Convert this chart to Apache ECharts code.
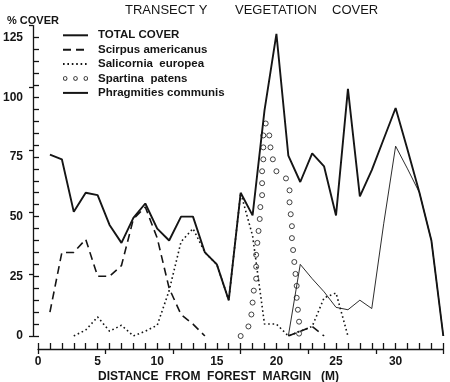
<!DOCTYPE html>
<html>
<head>
<meta charset="utf-8">
<script src="https://cdn.jsdelivr.net/npm/echarts@6/dist/echarts.min.js"></script>
<style>
html,body{margin:0;padding:0;background:#fff;}
#c{width:450px;height:382px;}
</style>
</head>
<body>
<div id="c"></div>
<script>
// ---- data ----
const distance = [1,2,3,4,5,6,7,8,9,10,11,12,13,14,15,16,17,18,19,20,21,22,23,24,25,26,27,28,29,30,31,32,33,34];
const totalCover = [76,74,52,60,59,46.5,39,49.5,55.5,45,40,50,50,35,30,15,60,50.5,94.5,126.5,75.5,64.5,76.5,71,50.5,103.5,58.5,69.5,82.5,95.5,78,60,40,0];

const scirpusDist = [1,2,3,4,5,6,7,8,9,10,11,12,13,14,15,16,17,18,19,20,21,22,23,24];
const scirpusCover = [10,35,35,40.5,25,25,29.5,49,54,41,20,9,5,0,null,null,null,null,null,null,0,2,4,0];

const salicorniaDist = [3,4,5,6,7,8,9,10,11,12,13,14,15,16,17,18,19,20,21,22,23,24,25,26];
const salicorniaCover = [0,2.5,8,2,4.5,0,2,4.5,19,39.5,45,35,30,15,60,42,5,5,0,2,4,16,18,0];

const spartinaDist = [17.0,17.65,17.9,18.0,18.1,18.3,18.3,18.3,18.4,18.5,18.6,18.65,18.8,18.8,18.8,18.9,18.9,18.9,19.1,19.4,19.5,19.7,20.0,20.8,21.1,21.1,21.2,21.3,21.3,21.4,21.5,21.6,21.7,21.7,21.8,21.9,21.9];
const spartinaCover = [0,4,9,14,19,24,29,34,39,44,49,54,59,64,69,74,79,84,89,84,79,74,69,66,61,56,51,46,41,36,31,26,21,16,11,6,1];

const phragmitesDist = [21,22,23,24,25,26,27,28,29,30,31,32,33,34];
const phragmitesCover = [0,30,24,18.5,12,11,15,11.5,47,79.5,70,60,40,0];

const xMajorTicks = [0,5,10,15,20,25,30];
const yMajorTicks = [0,25,50,75,100,125];
const seriesNames = ['TOTAL COVER','Scirpus americanus','Salicornia  europea','Spartina  patens','Phragmities communis'];

// ---- chart ----
const ink = '#151515';
const font = '"Liberation Sans", Arial, sans-serif';
const pair = (xs, ys) => xs.map((x, i) => [x, ys[i] === null ? '-' : ys[i]]);
const yMinor = []; for (let v = 0; v <= 125; v += 5) yMinor.push(v);

const chart = echarts.init(document.getElementById('c'), null, {renderer: 'canvas'});
chart.setOption({
  backgroundColor: '#fff',
  animation: false,
  title: [
    {text: 'TRANSECT Y', left: 120, top: -1, textStyle: {fontFamily: font, fontSize: 13, fontWeight: 'normal', color: ink}},
    {text: 'VEGETATION', left: 230, top: -1, textStyle: {fontFamily: font, fontSize: 13, fontWeight: 'normal', color: ink}},
    {text: 'COVER', left: 327, top: -1, textStyle: {fontFamily: font, fontSize: 13, fontWeight: 'normal', color: ink}},
    {text: '% COVER', left: 2, top: 10, textStyle: {fontFamily: font, fontSize: 11, fontWeight: 'bold', color: ink}},
    {text: 'DISTANCE  FROM  FOREST  MARGIN   (M)', left: 93, top: 366, textStyle: {fontFamily: font, fontSize: 12, fontWeight: 'bold', color: ink}}
  ],
  legend: {
    orient: 'vertical',
    left: 57,
    top: 24.3,
    itemWidth: 25,
    itemHeight: 10,
    itemGap: 2.4,
    itemStyle: {opacity: 0},
    textStyle: {fontFamily: font, fontSize: 11.5, fontWeight: 'bold', color: ink, padding: [0, 0, 0, 5]},
    data: [
      {name: seriesNames[0]},
      {name: seriesNames[1]},
      {name: seriesNames[2]},
      {name: seriesNames[3], icon: 'path://M0,2.5a2.5,2.5 0 1,0 5,0a2.5,2.5 0 1,0 -5,0ZM0.9,2.5a1.6,1.6 0 1,1 3.2,0a1.6,1.6 0 1,1 -3.2,0ZM11.5,2.5a2.5,2.5 0 1,0 5,0a2.5,2.5 0 1,0 -5,0ZM12.4,2.5a1.6,1.6 0 1,1 3.2,0a1.6,1.6 0 1,1 -3.2,0ZM23,2.5a2.5,2.5 0 1,0 5,0a2.5,2.5 0 1,0 -5,0ZM23.9,2.5a1.6,1.6 0 1,1 3.2,0a1.6,1.6 0 1,1 -3.2,0Z', itemStyle: {opacity: 1, color: ink, borderWidth: 0}},
      {name: seriesNames[4]}
    ]
  },
  grid: {left: 37.7, right: 6.7, top: 25.6, bottom: 46, containLabel: false},
  xAxis: [
    {
      type: 'value', min: 0, max: 34, interval: 1, offset: 13, position: 'bottom',
      axisLine: {show: true, onZero: false, lineStyle: {color: ink, width: 1.3}},
      axisTick: {show: true, inside: true, length: 6, lineStyle: {color: ink, width: 1.3}},
      axisLabel: {show: true, margin: 7, fontFamily: font, fontSize: 12, fontWeight: 'bold', color: ink,
        formatter: v => (xMajorTicks.indexOf(v) >= 0 ? String(v) : '')},
      splitLine: {show: false}
    },
    {
      type: 'value', min: 0, max: 30, interval: 5, offset: 13, position: 'bottom',
      axisLine: {show: false, onZero: false},
      axisTick: {show: true, inside: false, length: 5, lineStyle: {color: ink, width: 1.3}},
      axisLabel: {show: false},
      splitLine: {show: false}
    }
  ],
  yAxis: [
    {
      type: 'value', min: 0, max: 130, interval: 5, offset: 5, position: 'left',
      axisLine: {show: true, onZero: false, lineStyle: {color: ink, width: 1.3}},
      axisTick: {show: true, inside: true, length: 6, customValues: yMinor, lineStyle: {color: ink, width: 1.3}},
      axisLabel: {show: true, margin: 10, fontFamily: font, fontSize: 12, fontWeight: 'bold', color: ink,
        formatter: v => (yMajorTicks.indexOf(v) >= 0 ? String(v) : '')},
      splitLine: {show: false}
    },
    {
      type: 'value', min: 0, max: 125, interval: 25, offset: 5, position: 'left',
      axisLine: {show: false, onZero: false},
      axisTick: {show: true, inside: false, length: 4, lineStyle: {color: ink, width: 1.3}},
      axisLabel: {show: false},
      splitLine: {show: false}
    }
  ],
  series: [
    {
      name: seriesNames[0], type: 'line', symbol: 'none', showSymbol: false,
      data: pair(distance, totalCover),
      lineStyle: {color: ink, width: 1.9, type: 'solid'},
      itemStyle: {color: ink}
    },
    {
      name: seriesNames[1], type: 'line', symbol: 'none', showSymbol: false, connectNulls: false,
      data: pair(scirpusDist, scirpusCover),
      lineStyle: {color: ink, width: 1.6, type: [8, 5]},
      itemStyle: {color: ink}
    },
    {
      name: seriesNames[2], type: 'line', symbol: 'none', showSymbol: false,
      data: pair(salicorniaDist, salicorniaCover),
      lineStyle: {color: ink, width: 1.6, type: [1.6, 2.8]},
      itemStyle: {color: ink}
    },
    {
      name: seriesNames[3], type: 'scatter', symbol: 'circle', symbolSize: 5,
      data: pair(spartinaDist, spartinaCover),
      itemStyle: {color: 'rgba(255,255,255,0)', borderColor: ink, borderWidth: 1}
    },
    {
      name: seriesNames[4], type: 'line', symbol: 'none', showSymbol: false,
      data: pair(phragmitesDist, phragmitesCover),
      lineStyle: {color: ink, width: 0.9, type: 'solid'},
      itemStyle: {color: ink}
    }
  ]
});
</script>
</body>
</html>
